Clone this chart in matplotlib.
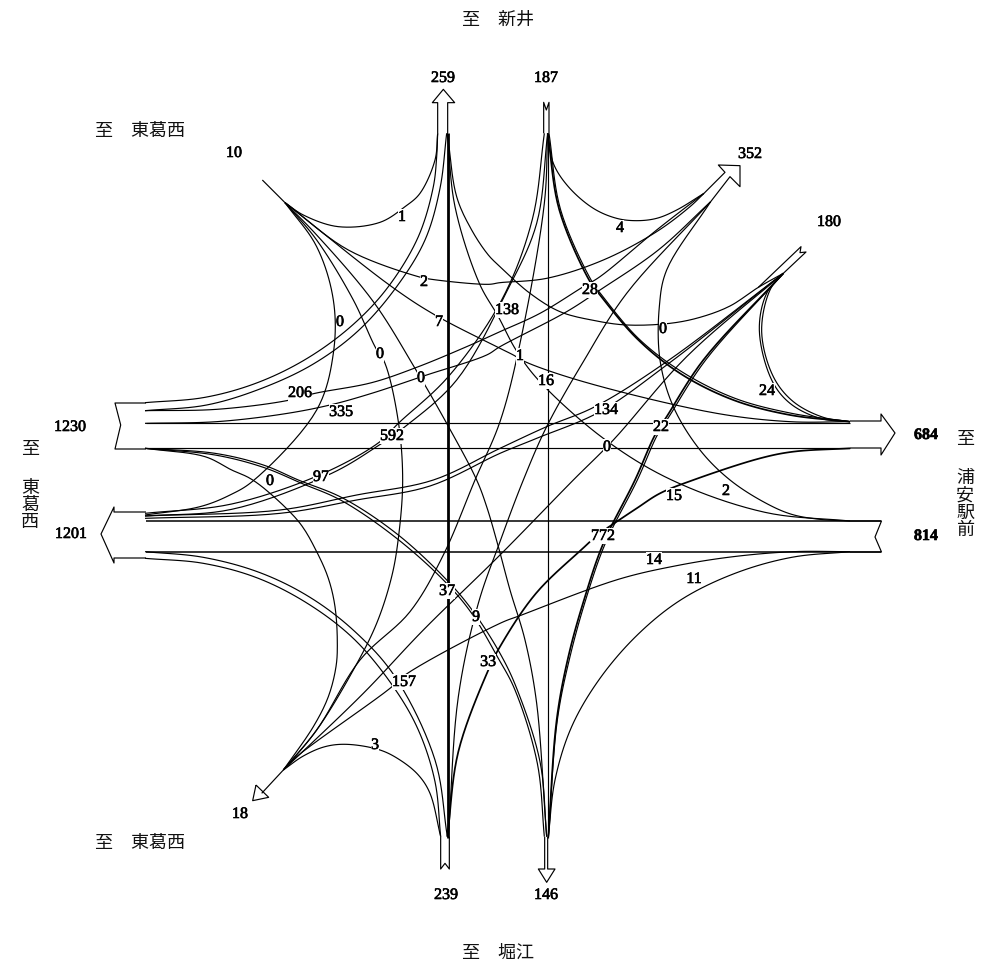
import matplotlib
matplotlib.use("Agg")
import matplotlib.pyplot as plt
import matplotlib.patheffects as pe
import numpy as np

W, H = 992, 969

def nw(p): return [(90 + x / 3, 60 + y / 3) for x, y in p]
def ne(p): return [(500 + x / 3, 60 + y / 3) for x, y in p]
def sw(p): return [(90 + x / 3, 480 + y / 3) for x, y in p]
def se(p): return [(500 + x / 3, 480 + y / 3) for x, y in p]

# ---- traffic counts (value, x, y) -------------------------------------
leg_values = ["10", "259", "187", "352", "180", "1230", "684", "1201", "814", "18", "239", "146"]
leg_x = [234, 443, 546, 750, 829, 70, 926, 71, 926, 240, 446, 546]
leg_y = [153, 78, 78, 154, 222, 427, 435, 534, 536, 814, 895, 895]

move_values = ["1", "0", "0", "2", "7", "138", "1", "16", "28", "4", "0", "24", "134", "22", "0",
               "206", "335", "0", "592", "97", "0", "15", "2", "772", "14", "11", "37", "9", "33",
               "157", "3"]
move_x = [402, 340, 380, 424, 439, 507, 520, 546, 590, 620, 663, 767, 606, 661, 607,
          300, 341, 421, 392, 321, 270, 674, 726, 603, 654, 694, 447, 476, 488, 404, 375]
move_y = [217, 322, 354, 282, 322, 310, 356, 381, 290, 228, 329, 391, 410, 427, 447,
          393, 412, 378, 436, 477, 481, 496, 491, 536, 560, 579, 591, 617, 662, 682, 745]

# ---- direction captions ----------------------------------------------
cap_text = ["至　東葛西", "至　東葛西", "至　新井", "至　堀江"]
cap_x = [95, 95, 462, 462]
cap_y = [131, 843, 20, 953]

# ---- approach outlines ------------------------------------------------
north_out = nw([(1043, 220), (1043, 128), (1027, 128), (1060, 88), (1094, 128), (1073, 128), (1073, 220)])
north_in = ne([(131, 220), (131, 127), (139, 150), (147, 127), (147, 220)])
south_in = sw([(1052, 1070), (1052, 1167), (1065, 1150), (1078, 1167), (1078, 1070)])
south_out = se([(134, 1070), (134, 1167), (115, 1167), (140, 1207), (165, 1167), (143, 1167), (143, 1070)])
ne_out = ne([(612, 400), (675, 337), (655, 315), (720, 317), (720, 380), (690, 350), (632, 425)])
ne_in = ne([(775, 682), (903, 560), (900, 578), (918, 576), (850, 640)])
nw_in = nw([(517, 360), (585, 428)])
sw_out = sw([(580, 870), (515, 940)])
sw_head = sw([(498, 915), (488, 962), (536, 952), (498, 915)])
west_in = [(146, 403), (115, 403), (120.7, 425), (115, 449), (146, 449)]
west_out = [(146, 512), (114, 512), (114, 507), (101, 534), (114, 563), (114, 558), (146, 558)]
east_out = [(850, 421), (881, 421), (881, 414), (895, 433), (881, 455), (881, 448), (850, 448)]
east_in = [(850, 521), (881.5, 521), (875, 537), (881.5, 552), (850, 552)]

# ---- thin turning movements -------------------------------------------
thin_routes = [
    nw([(165, 1028), (345, 1012), (505, 967), (655, 893), (790, 793), (895, 680), (985, 530), (1030, 380), (1040, 290), (1043, 220)]),
    nw([(165, 1052), (350, 1035), (515, 985), (670, 912), (805, 812), (920, 680), (1005, 540), (1050, 385), (1070, 220)]),
    nw([(165, 1052), (380, 1048), (590, 1022), (675, 1000), (845, 968), (980, 922), (1130, 860), (1230, 815)]) + ne([(120, 760), (250, 680), (300, 650), (470, 510), (612, 400)]),
    nw([(165, 1090), (380, 1085), (580, 1062), (720, 1035), (845, 1000), (1010, 945), (1190, 885), (1230, 860)]) + ne([(200, 755), (300, 690), (475, 570), (632, 425)]),
    nw([(165, 1165), (375, 1180), (520, 1215), (625, 1260)]) + sw([(760, 55), (925, 165), (1075, 305), (1150, 395), (1230, 520)]) + se([(50, 625), (120, 845), (140, 1070)]),
    nw([(165, 1165), (375, 1185), (520, 1222), (635, 1270)]) + sw([(755, 62), (920, 175), (1065, 305), (1145, 400), (1222, 530)]) + se([(45, 630), (112, 850), (133, 1070)]),
    nw([(165, 1165), (345, 1190), (425, 1230), (480, 1255)]) + sw([(540, 40), (630, 130), (680, 215), (715, 295), (735, 380), (742, 490), (738, 560), (715, 650), (670, 740), (580, 870)]),
    nw([(585, 428), (680, 560), (730, 720), (730, 880), (680, 1050), (490, 1262)]) + sw([(420, 45), (330, 80), (165, 105)]),
    nw([(585, 428), (640, 465), (745, 500), (870, 487), (945, 440), (990, 400), (1035, 300), (1043, 220)]),
    nw([(585, 428), (775, 570), (985, 650), (1025, 658), (1195, 673)]) + ne([(0, 668), (140, 655), (310, 600), (470, 515), (570, 440), (612, 400)]),
    nw([(585, 428), (905, 680), (1035, 765), (1230, 865)]) + ne([(40, 885), (75, 905), (250, 965), (650, 1060), (870, 1085), (1050, 1085)]),
    nw([(585, 428), (680, 525), (850, 725), (975, 925), (1070, 1090), (1160, 1260)]) + sw([(1190, 80), (1225, 200)]) + se([(30, 330), (75, 480), (110, 670), (135, 1000), (140, 1070)]),
    nw([(585, 428), (680, 540), (790, 720), (855, 860), (885, 910), (925, 1085), (938, 1262)]) + sw([(925, 175), (905, 290), (860, 430), (790, 570), (680, 750), (580, 870)]),
    ne([(143, 220), (160, 310), (205, 380), (280, 445), (350, 475), (410, 482), (470, 475), (530, 450), (612, 400)]),
    ne([(133, 220), (97, 478), (5, 720)]) + nw([(1075, 950), (925, 1090), (870, 1145), (700, 1240)]) + sw([(425, 72), (165, 100)]),
    ne([(143, 220), (110, 490), (20, 695)]) + nw([(1100, 960), (945, 1100), (860, 1160), (725, 1240)]) + sw([(425, 88), (165, 108)]),
    ne([(143, 220), (133, 430), (60, 850), (0, 1085)]) + sw([(1155, 0), (1060, 225), (960, 395), (810, 540), (680, 750), (580, 870)]),
    nw([(1072, 220), (1095, 440), (1168, 670), (1225, 770)]) + ne([(48, 870), (115, 960), (310, 1135), (515, 1260)]) + se([(795, 97), (1050, 123)]),
    nw([(1072, 220), (1100, 410), (1145, 510), (1195, 585), (1230, 620)]) + ne([(90, 700), (180, 755), (285, 782), (380, 795), (510, 790), (600, 772), (690, 738), (775, 682), (850, 640)]),
    ne([(850, 640), (500, 905), (285, 1040), (140, 1100), (0, 1165)]) + sw([(1030, 0), (800, 45), (570, 90), (165, 108)]),
    ne([(850, 640), (500, 915), (300, 1055), (110, 1135), (0, 1180)]) + sw([(1020, 18), (800, 60), (570, 100), (165, 115)]),
    ne([(850, 640), (560, 890), (340, 1140), (220, 1260)]) + sw([(1230, 225), (1000, 450), (820, 640), (580, 870)]),
    ne([(850, 640), (800, 700), (778, 810), (815, 960), (870, 1030), (960, 1075), (1050, 1085)]),
    ne([(850, 640), (810, 690), (785, 815), (820, 950), (880, 1025), (970, 1072), (1050, 1085)]),
    ne([(632, 425), (500, 630), (478, 740), (480, 900), (520, 1040), (600, 1170), (690, 1260)]) + se([(795, 68), (875, 103), (960, 118), (1050, 123)]),
    se([(1050, 215), (880, 215), (700, 230), (530, 257), (355, 298), (65, 405), (0, 430)]) + sw([(945, 585), (900, 625), (620, 830), (580, 870)]),
    se([(1050, 215), (875, 232), (705, 280), (545, 358), (415, 462), (300, 595), (215, 740), (165, 900), (145, 1070)]),
    sw([(1052, 1070), (1020, 940), (985, 885), (930, 840), (870, 810), (770, 793), (705, 800), (640, 828), (580, 870)]),
    sw([(165, 215), (340, 232), (510, 278), (660, 352), (795, 455), (915, 590), (1035, 840), (1072, 1070)]),
    sw([(165, 235), (340, 250), (505, 295), (660, 375), (795, 480), (910, 620), (985, 750), (1035, 905), (1052, 1070)]),
    ne([(632, 425), (380, 700), (250, 905), (140, 1100), (70, 1260)]) + sw([(1230, 185), (1165, 370), (1105, 650), (1075, 1070)]),
    [(146, 423), (850, 423)],
    [(146, 448), (850, 448)],
    [(547.5, 133), (547.5, 838)],
]

# ---- heavy movements --------------------------------------------------
heavy_routes = [
    ne([(143, 220), (178, 450), (270, 665), (300, 705), (410, 835), (540, 940), (700, 1020), (870, 1065), (1050, 1085)]),
    ne([(850, 640), (610, 900), (500, 1070), (465, 1125), (405, 1260)]) + se([(310, 190), (255, 350), (205, 530), (170, 720), (145, 1070)]),
    se([(320, 145), (410, 85), (480, 40), (580, 0)]) + ne([(780, 1195), (880, 1175), (1050, 1165)]),
    se([(270, 185), (108, 340), (0, 500)]) + sw([(1195, 570), (1105, 815), (1072, 1070)]),
]
double_routes = [
    ne([(147, 220), (182, 450), (276, 665), (305, 705), (415, 835), (545, 935), (705, 1015), (875, 1060), (1050, 1085)]),
    ne([(850, 640), (617, 900), (507, 1070), (472, 1125), (412, 1260)]) + se([(316, 190), (260, 350), (210, 530), (172, 720), (145, 1070)]),
]
main_routes = [
    [(146, 521), (881, 521)],
    [(146, 552), (881, 552)],
]
spine = [(447.5, 133), (447.5, 838)]

# ---- drawing ----------------------------------------------------------
plt.rcParams['font.family'] = ['Liberation Serif', 'DejaVu Serif']
fig = plt.figure(figsize=(W / 100, H / 100), dpi=100)
ax = fig.add_axes([0, 0, 1, 1])
ax.set_xlim(0, W)
ax.set_ylim(H, 0)
ax.axis('off')


def smooth(route, n=10):
    """Centripetal Catmull-Rom curve through the read-off vertices."""
    p = np.array(route, dtype=float)
    if len(p) < 3:
        return p
    keep = np.r_[True, np.hypot(*np.diff(p, axis=0).T) > 1e-6]
    p = p[keep]
    p = np.vstack([2 * p[0] - p[1], p, 2 * p[-1] - p[-2]])
    out = [p[1]]
    for i in range(1, len(p) - 2):
        p0, p1, p2, p3 = p[i - 1], p[i], p[i + 1], p[i + 2]
        t0 = 0.0
        t1 = t0 + np.hypot(*(p1 - p0)) ** 0.5
        t2 = t1 + np.hypot(*(p2 - p1)) ** 0.5
        t3 = t2 + np.hypot(*(p3 - p2)) ** 0.5
        for t in np.linspace(t1, t2, n + 1)[1:]:
            a1 = (t1 - t) / (t1 - t0) * p0 + (t - t0) / (t1 - t0) * p1
            a2 = (t2 - t) / (t2 - t1) * p1 + (t - t1) / (t2 - t1) * p2
            a3 = (t3 - t) / (t3 - t2) * p2 + (t - t2) / (t3 - t2) * p3
            b1 = (t2 - t) / (t2 - t0) * a1 + (t - t0) / (t2 - t0) * a2
            b2 = (t3 - t) / (t3 - t1) * a2 + (t - t1) / (t3 - t1) * a3
            out.append((t2 - t) / (t2 - t1) * b1 + (t - t1) / (t2 - t1) * b2)
    return np.array(out)


def draw(route, lw, curved=True):
    c = smooth(route) if curved else np.array(route, dtype=float)
    ax.plot(c[:, 0], c[:, 1], color='black', lw=lw,
            solid_joinstyle='round', solid_capstyle='butt', zorder=2)


for outline in [north_out, north_in, south_in, south_out, ne_out, ne_in, nw_in, sw_out, sw_head,
                west_in, west_out, east_out, east_in]:
    draw(outline, 0.85, curved=False)
for r in thin_routes:
    draw(r, 0.85)
for r in double_routes:
    draw(r, 0.85)
for r in heavy_routes:
    draw(r, 1.25)
for r in main_routes:
    draw(r, 1.1, curved=False)
draw(spine, 2.0, curved=False)

stroke = [pe.withStroke(linewidth=0.45, foreground='black')]
for vals, xs, ys in [(leg_values, leg_x, leg_y), (move_values, move_x, move_y)]:
    for v, x, y in zip(vals, xs, ys):
        ax.text(x, y, v, ha='center', va='center', fontsize=11.5, color='black', zorder=4,
                fontweight='bold' if v in ("684", "814") else 'normal', path_effects=stroke,
                bbox=dict(facecolor='white', edgecolor='none', pad=0.4))

cjk = ['Noto Sans CJK JP', 'DejaVu Sans']
for t, x, y in zip(cap_text, cap_x, cap_y):
    ax.text(x, y, t, ha='left', va='center', fontsize=13, family=cjk, color='#111111', zorder=4)

ax.text(30, 449, "至", ha='center', va='center', fontsize=13, family=cjk, color='#111111')
ax.text(30, 505, "東\n葛\n西", ha='center', va='center', fontsize=13, family=cjk, color='#111111', linespacing=0.95)
ax.text(965, 439, "至", ha='center', va='center', fontsize=13, family=cjk, color='#111111')
ax.text(965, 504, "浦\n安\n駅\n前", ha='center', va='center', fontsize=13, family=cjk, color='#111111', linespacing=0.95)

fig.savefig('out.png', dpi=100, facecolor='white')
